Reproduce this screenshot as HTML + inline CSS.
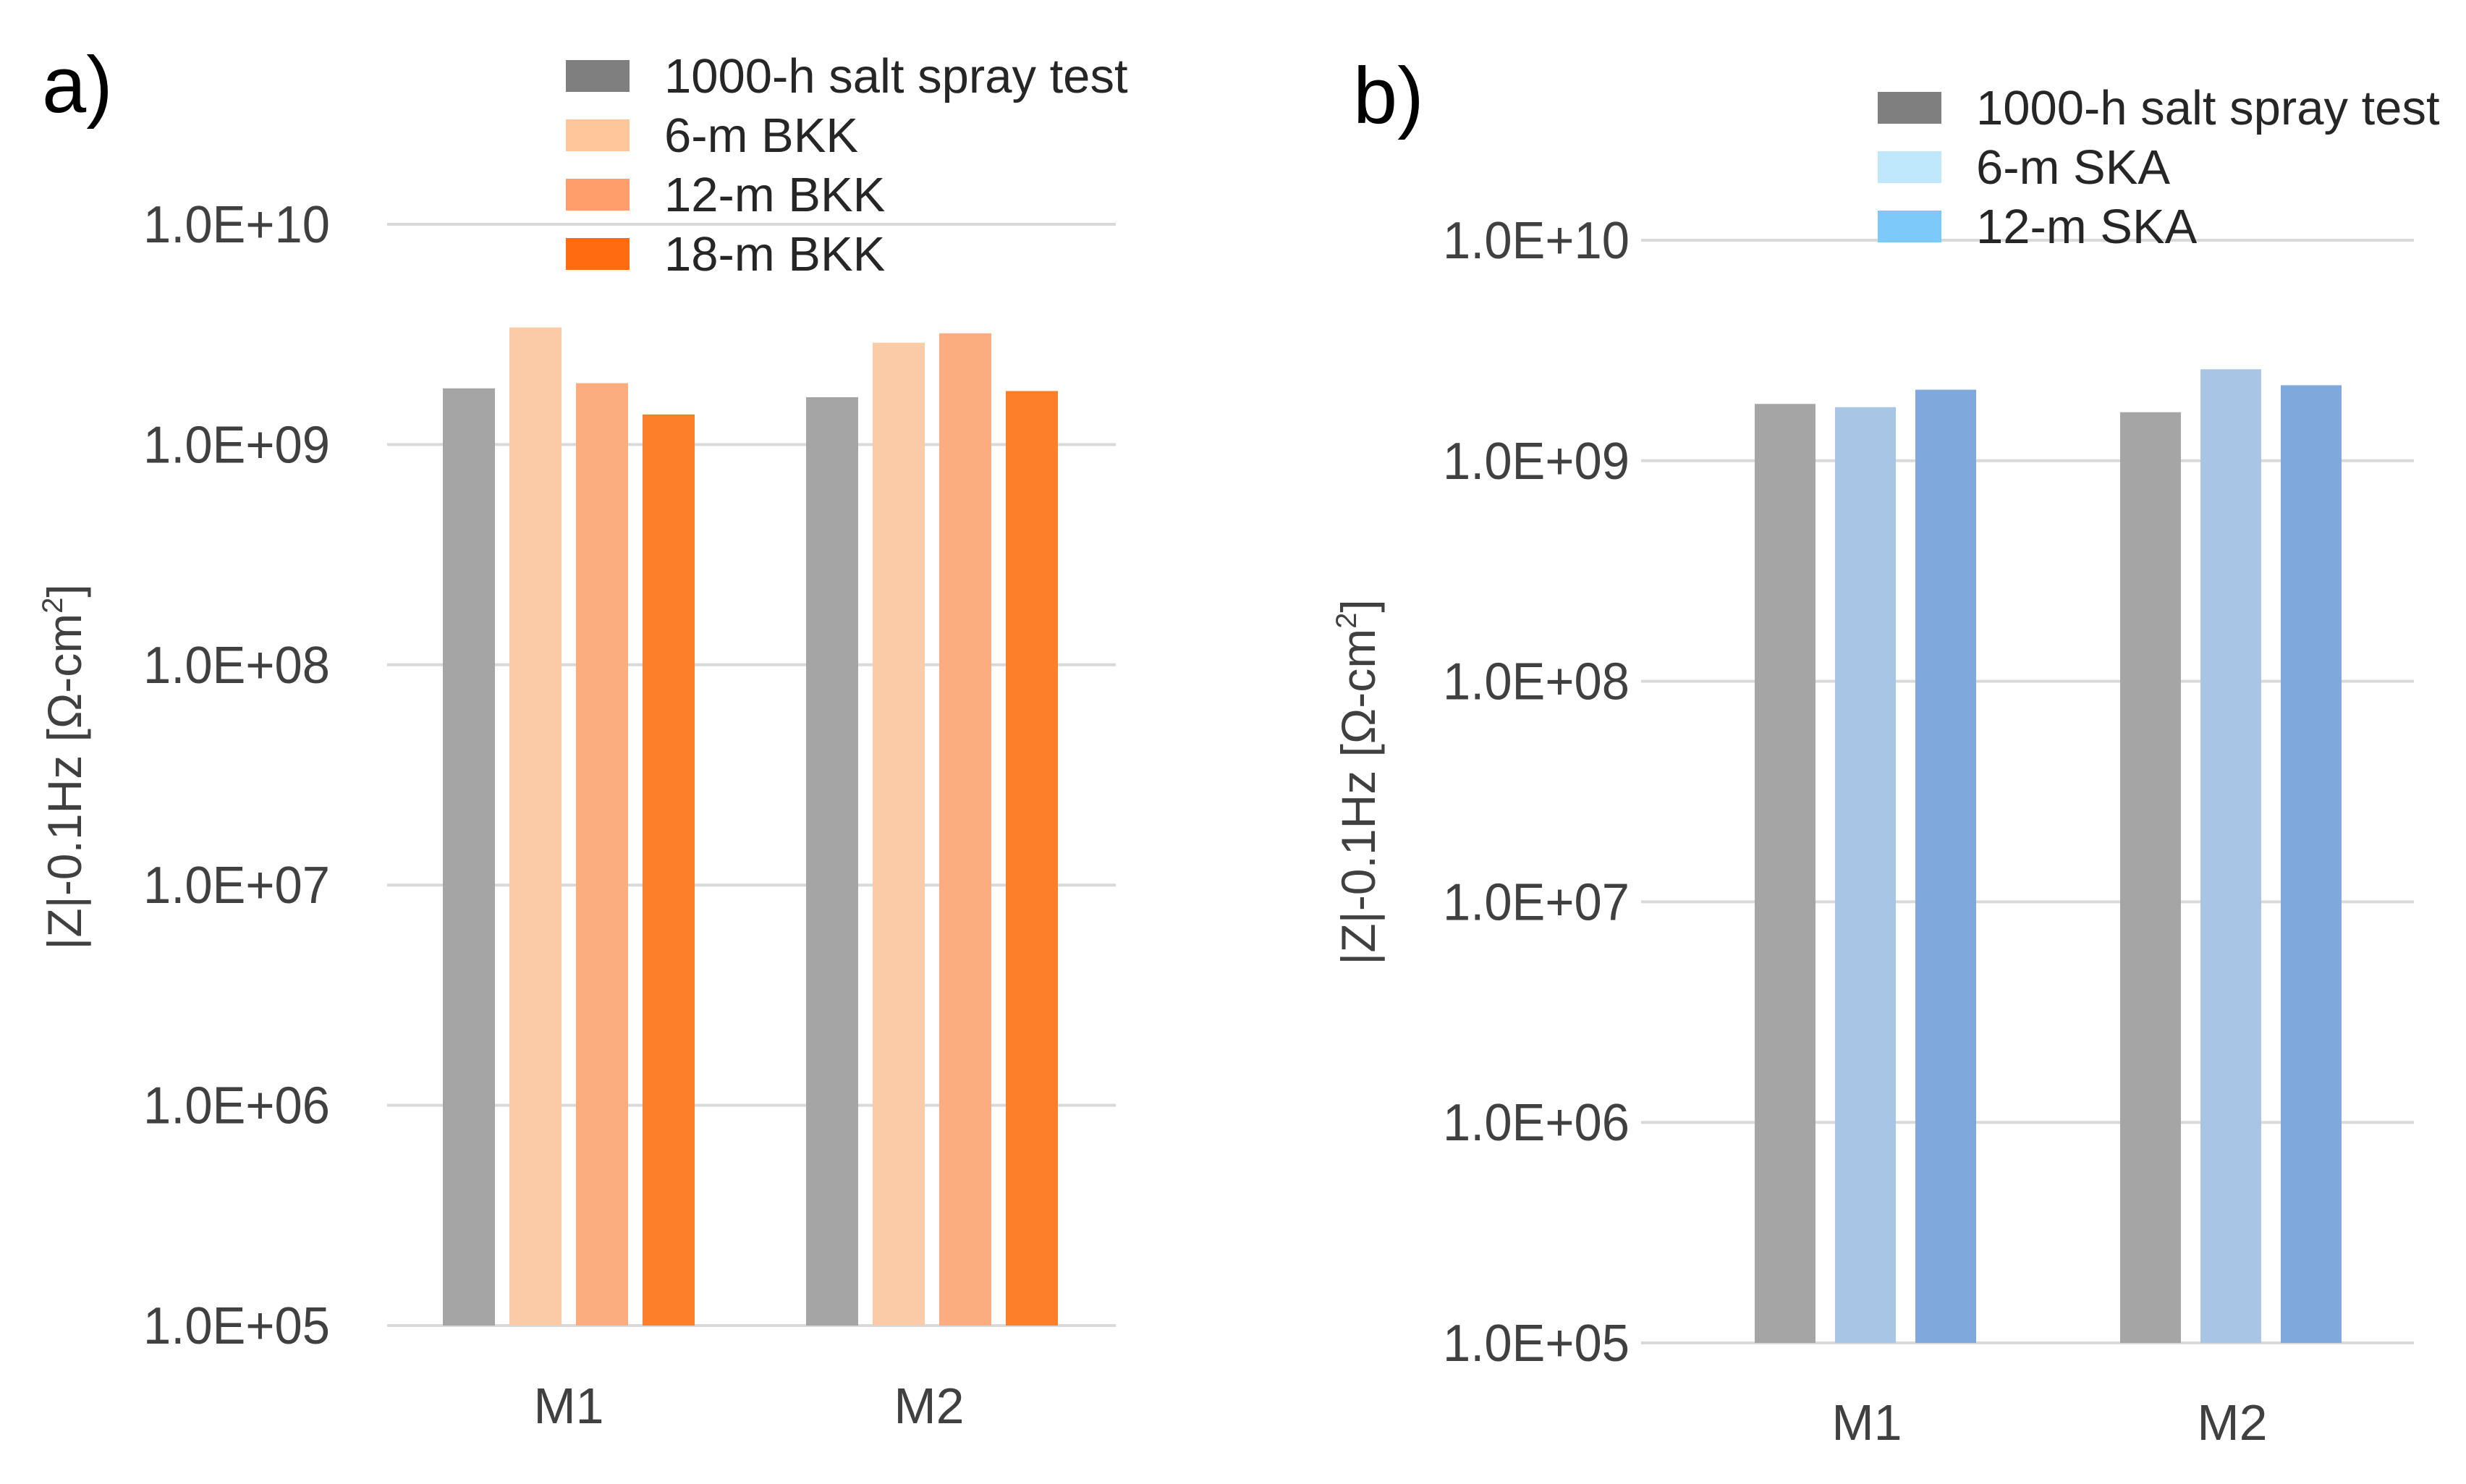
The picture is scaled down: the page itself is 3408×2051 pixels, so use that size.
<!DOCTYPE html>
<html><head><meta charset="utf-8"><style>
html,body{margin:0;padding:0;background:#fff;}
svg{display:block;font-family:"Liberation Sans",Arial,sans-serif;}
</style></head><body>
<svg id="chart" width="3408" height="2051" viewBox="0 0 3408 2051" xmlns="http://www.w3.org/2000/svg"></svg>
<script>
const categories = ["M1", "M2"];
const tickExps = [5, 6, 7, 8, 9, 10];
const tickLabels = ["1.0E+05", "1.0E+06", "1.0E+07", "1.0E+08", "1.0E+09", "1.0E+10"];
const seriesA = ["1000-h salt spray test", "6-m BKK", "12-m BKK", "18-m BKK"];
const valuesA0 = [1.8e9, 1.64e9];
const valuesA1 = [3.4e9, 2.9e9];
const valuesA2 = [1.9e9, 3.2e9];
const valuesA3 = [1.37e9, 1.75e9];
const seriesB = ["1000-h salt spray test", "6-m SKA", "12-m SKA"];
const valuesB0 = [1.81e9, 1.66e9];
const valuesB1 = [1.75e9, 2.6e9];
const valuesB2 = [2.1e9, 2.2e9];

const NS = "http://www.w3.org/2000/svg";
const svg = document.getElementById("chart");
function mk(tag, attrs, parent, text) {
  const e = document.createElementNS(NS, tag);
  for (const k in attrs) e.setAttribute(k, attrs[k]);
  if (text !== undefined) e.textContent = text;
  (parent || svg).appendChild(e);
  return e;
}

function panel(cfg) {
  const g = mk("g", {});
  
  
  const yScale = v => cfg.yBot - (Math.log10(v) - 5) * (cfg.yBot - cfg.yTop) / 5;
  tickExps.forEach((e, i) => {
    const y = yScale(Math.pow(10, e));
    const l = mk("line", {x1: cfg.x0, x2: cfg.x1, y1: y, y2: y, stroke: "#d9d9d9", "stroke-width": 4}, g);
    
    
    const t = mk("text", {x: cfg.tickX, y: y + 25, "text-anchor": "end", "font-size": 72, fill: "#404040", textLength: 258, lengthAdjust: "spacingAndGlyphs"}, g, tickLabels[i]);
    
    
  });
  cfg.values.forEach((vals, s) => {
    vals.forEach((v, c) => {
      const x = cfg.groupStart[c] + s * cfg.step;
      const y = yScale(v);
      const r = mk("rect", {x: x, y: y, width: cfg.barW, height: cfg.yBot - y, fill: cfg.barColors[s]}, g);
      
      
    });
  });
  categories.forEach((c, i) => {
    const t = mk("text", {x: cfg.catX[i], y: cfg.catY, "text-anchor": "middle", "font-size": 70, fill: "#404040"}, g, c);
    
    
  });
  const yt = mk("text", {x: 0, y: 0, "text-anchor": "middle", "font-size": 66, fill: "#404040",
    transform: "translate(" + cfg.titleX + "," + cfg.titleY + ") rotate(-90)"}, g);
  
  
  yt.appendChild(document.createTextNode("|Z|-0.1Hz [Ω-cm"));
  mk("tspan", {"font-size": 40, dy: -26}, yt, "2");
  mk("tspan", {dy: 26}, yt, "]");
  const lab = mk("text", {x: cfg.labX, y: cfg.labY, "font-size": 110, fill: "#000"}, g, cfg.id + ")");
  
  
  cfg.series.forEach((s, i) => {
    const y = cfg.legY + i * cfg.legStep;
    const e = mk("g", {}, g);
    
    
    mk("rect", {x: cfg.legX, y: y - 22, width: 88, height: 44, fill: cfg.legColors[i]}, e);
    mk("text", {x: cfg.legX + 136, y: y + 23, "font-size": 67, fill: "#262626"}, e, s);
  });
}

panel({id: "a", x0: 535, x1: 1542, yTop: 310, yBot: 1832, tickX: 456,
  values: [valuesA0, valuesA1, valuesA2, valuesA3], series: seriesA,
  groupStart: [612, 1114], step: 92, barW: 72,
  barColors: ["#a5a5a5", "#fbcaa7", "#fbad80", "#fd7f2a"],
  legColors: ["#7f7f7f", "#ffc799", "#ff9e6a", "#ff6b10"],
  catX: [786, 1284], catY: 1967, titleX: 112, titleY: 1060,
  labX: 58, labY: 155, legX: 782, legY: 105, legStep: 82});

panel({id: "b", x0: 2268, x1: 3336, yTop: 332, yBot: 1856, tickX: 2252,
  values: [valuesB0, valuesB1, valuesB2], series: seriesB,
  groupStart: [2425, 2930], step: 111, barW: 84,
  barColors: ["#a5a5a5", "#a9c5e6", "#7fa8dc"],
  legColors: ["#7f7f7f", "#bfe8fc", "#7dcafa"],
  catX: [2580, 3085], catY: 1990, titleX: 1900, titleY: 1081,
  labX: 1870, labY: 170, legX: 2595, legY: 149, legStep: 82});
</script>
</body></html>
